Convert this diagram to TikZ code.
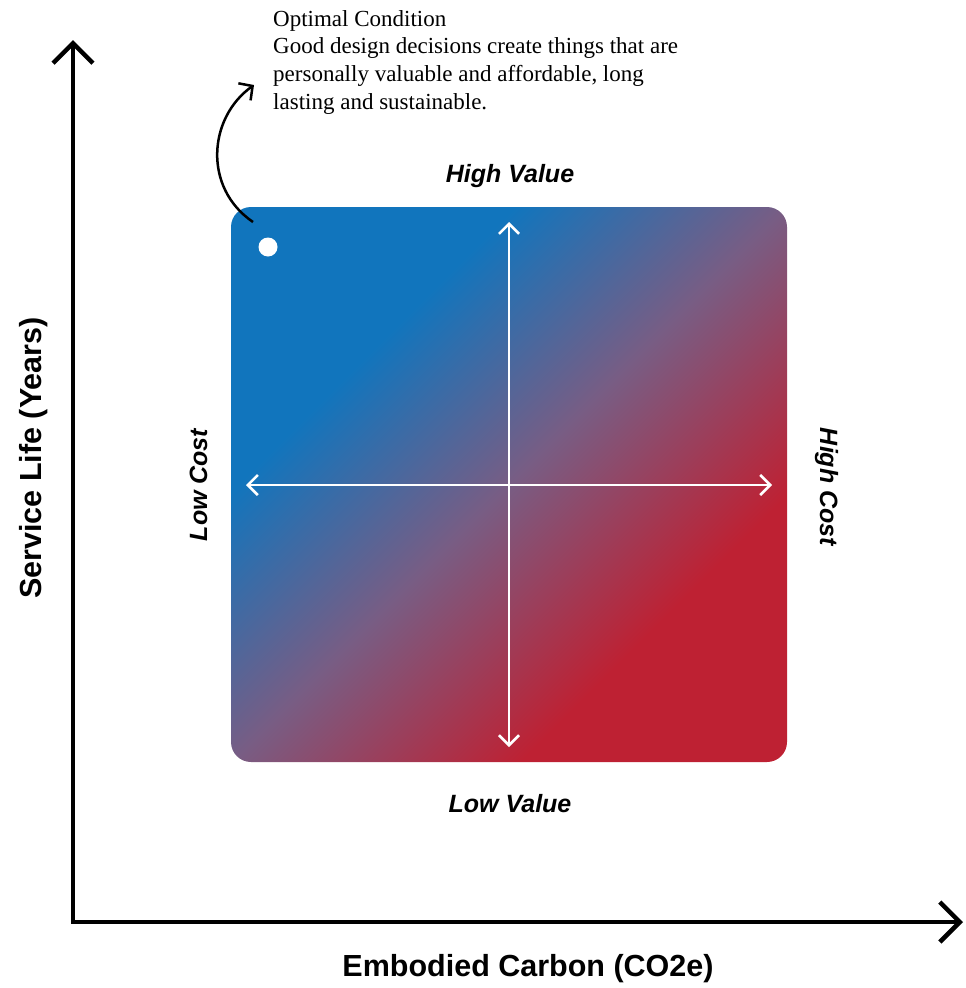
\documentclass[tikz,border=0pt]{standalone}
\usepackage{fontspec}
\setmainfont{Liberation Serif}
\newfontfamily\labelfont{Liberation Sans}
\usetikzlibrary{arrows.meta}

\definecolor{qblue}{RGB}{17,117,189}
\definecolor{qmid}{RGB}{120,93,132}
\definecolor{qred}{RGB}{190,33,51}

% diagonal blue-to-red fill for the quadrant field
\pgfdeclarehorizontalshading{quadshade}{100bp}{%
  color(0bp)=(qblue); color(32.6bp)=(qblue); color(50bp)=(qmid);
  color(68.5bp)=(qred); color(100bp)=(qred)}

\tikzset{
  axisline/.style={line width=4.5pt, draw=black, line join=miter,
    {Straight Barb[length=20pt,width=40pt]}-{Straight Barb[length=20pt,width=40pt]}},
  quadarrow/.style={line width=2.6pt, draw=white,
    {Straight Barb[length=10pt,width=20pt]}-{Straight Barb[length=10pt,width=20pt]}},
  callout/.style={line width=2.5pt, draw=black, -{Straight Barb[length=10pt,width=21pt]}},
  axislabel/.style={font=\labelfont\bfseries\fontsize{30.5}{36}\selectfont, inner sep=0pt},
  quadlabel/.style={font=\labelfont\bfseries\itshape\fontsize{25}{30}\selectfont, inner sep=0pt},
  notetext/.style={font=\fontsize{23}{27.7}\selectfont, align=left, inner sep=0pt}
}

\begin{document}
\begin{tikzpicture}[x=1pt,y=-1pt]
  \useasboundingbox (0,0) rectangle (966,988);

  % quadrant field
  \shade[shading=quadshade, shading angle=-45, rounded corners=20pt]
    (231,207) rectangle (787,762);

  % main axes
  \coordinate (ytop) at (73,40);
  \coordinate (origin) at (73,922);
  \coordinate (xend) at (963,922);
  \draw[axisline] (ytop) -- (origin) -- (xend);

  % axis titles
  \node[axislabel, rotate=90, anchor=base] (ylabel) at (41,458) {Service Life (Years)};
  \node[axislabel, anchor=base] (xlabel) at (528,976) {Embodied Carbon (CO2e)};

  % quadrant cross
  \coordinate (vtop) at (509,222);
  \coordinate (vbot) at (509,747);
  \coordinate (hleft) at (246,485);
  \coordinate (hright) at (772,485);
  \draw[quadarrow] (vtop) -- (vbot);
  \draw[quadarrow] (hleft) -- (hright);

  % quadrant labels
  \node[quadlabel, anchor=base] (hv) at (510,182) {High Value};
  \node[quadlabel, anchor=base] (lv) at (510,812) {Low Value};
  \node[quadlabel, rotate=90, anchor=base] (lc) at (207,485) {Low Cost};
  \node[quadlabel, rotate=-90, anchor=base] (hc) at (820,487) {High Cost};

  % optimal point and its note
  \node[circle, fill=white, minimum size=19pt, inner sep=0pt] (opt) at (268,247) {};
  \node[notetext, anchor=north west] (note) at (273,10)
    {Optimal Condition\\Good design decisions create things that are\\personally valuable and affordable, long\\lasting and sustainable.};
  \coordinate (cstart) at (253,222);
  \coordinate (cend) at (254,85);
  \draw[callout] (cstart) .. controls (203,188) and (208,118) .. (cend);
\end{tikzpicture}
\end{document}
